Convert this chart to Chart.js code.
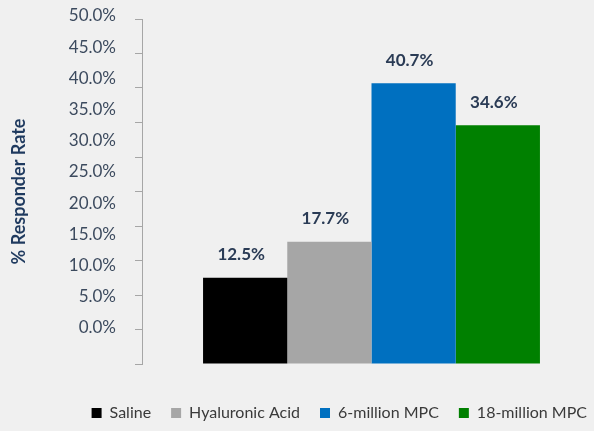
<!DOCTYPE html>
<html>
<head>
<meta charset="utf-8">
<script src="https://cdn.jsdelivr.net/npm/chart.js@4.4.0/dist/chart.umd.min.js"></script>
<style>
  html, body { margin: 0; padding: 0; background: #f0f0f0; overflow: hidden; }
  #wrap { width: 594px; height: 431px; overflow: hidden; }
</style>
</head>
<body>
<div id="wrap"><canvas id="myChart" width="607" height="431"></canvas></div>
<script>
var groups = ['Saline', 'Hyaluronic Acid', '6-million MPC', '18-million MPC'];
var responderRate = [12.5, 17.7, 40.7, 34.6];
var groupColors = ['#000000', '#a6a6a6', '#0070c0', '#008000'];
var tickValues = [0, 5, 10, 15, 20, 25, 30, 35, 40, 45, 50];
var tickLabels = ['0.0%', '5.0%', '10.0%', '15.0%', '20.0%', '25.0%', '30.0%', '35.0%', '40.0%', '45.0%', '50.0%'];

// value text above each bar
var valueLabels = {
  id: 'valueLabels',
  afterDatasetsDraw: function (chart) {
    var ctx = chart.ctx;
    ctx.save();
    ctx.font = 'bold 17px Lato';
    ctx.fillStyle = '#2a3b55';
    ctx.textAlign = 'center';
    ctx.textBaseline = 'middle';
    chart.data.datasets.forEach(function (ds, i) {
      chart.getDatasetMeta(i).data.forEach(function (bar, j) {
        ctx.fillText(ds.data[j].toFixed(1) + '%', bar.x - 4, bar.y - 23);
      });
    });
    ctx.restore();
  }
};

var ctx = document.getElementById('myChart').getContext('2d');
var myChart = new Chart(ctx, {
  type: 'bar',
  data: {
    labels: [''],
    datasets: groups.map(function (name, i) {
      return {
        label: name,
        data: [responderRate[i]],
        backgroundColor: groupColors[i],
        borderWidth: 0,
        categoryPercentage: 0.734,
        barPercentage: 1.0
      };
    })
  },
  options: {
    responsive: false,
    animation: false,
    layout: { padding: { top: 19, left: 0, right: 0, bottom: 0 } },
    plugins: {
      tooltip: { enabled: false },
      legend: {
        position: 'bottom',
        align: 'end',
        labels: {
          boxWidth: 10,
          boxHeight: 10,
          padding: 20,
          color: '#3a3a3a',
          font: { family: 'Lato', size: 16 }
        }
      }
    },
    scales: {
      x: {
        grid: { display: false },
        border: { display: false },
        ticks: { display: false },
        afterFit: function (scale) { scale.height = 21; }
      },
      y: {
        position: 'left',
        weight: 0,
        min: 0,
        max: 50,
        afterBuildTicks: function (scale) {
          scale.ticks = tickValues.map(function (v) { return { value: v }; });
        },
        ticks: { callback: function () { return ''; }, padding: 0 },
        grid: { drawOnChartArea: false, drawTicks: true, tickLength: 7, color: '#a6a6a6' },
        border: { color: '#a6a6a6' },
        afterFit: function (scale) { scale.width = 26; }
      },
      yLabels: {
        position: 'left',
        weight: 1,
        min: -5.29,
        max: 50,
        afterBuildTicks: function (scale) {
          scale.ticks = tickValues.map(function (v) { return { value: v }; });
        },
        ticks: {
          callback: function (value, index) { return tickLabels[index]; },
          padding: 0,
          labelOffset: -3,
          color: '#3c4a5e',
          font: { family: 'Lato', size: 17 }
        },
        grid: { display: false, drawTicks: false },
        border: { display: false },
        title: {
          display: true,
          text: '% Responder Rate',
          color: '#1f3a5f',
          font: { family: 'Lato', size: 18, weight: 'bold' },
          padding: { top: 8, bottom: 0 }
        },
        afterFit: function (scale) { scale.width = 116; }
      },
      // empty strip on the right so the plot ends where the bars need it
      yRight: {
        position: 'right',
        grid: { display: false },
        border: { display: false },
        ticks: { display: false },
        afterFit: function (scale) { scale.width = 6; }
      }
    }
  },
  plugins: [valueLabels]
});
</script>
</body>
</html>
